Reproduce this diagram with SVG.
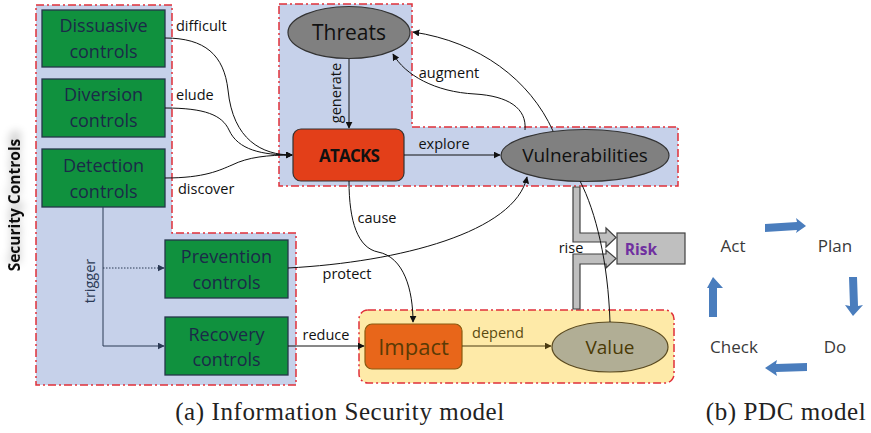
<svg xmlns="http://www.w3.org/2000/svg" width="871" height="433" viewBox="0 0 871 433">
<style>
.region{fill:#c6d1ea;stroke:#e0313a;stroke-width:1.5;stroke-dasharray:8 3 2 3}
.yregion{fill:#feeaa8;stroke:#e0313a;stroke-width:1.5;stroke-dasharray:8 3 2 3}
.green{fill:#10913e;stroke:#26364a;stroke-width:1.3}
.gt{font-family:"Open Sans",sans-serif;font-size:18px;fill:#1b2a48;text-anchor:middle}
.lbl{font-family:"Open Sans",sans-serif;font-size:14.5px;fill:#111}
.con{fill:none;stroke:#111;stroke-width:1}
.tri{fill:none;stroke:#2b3a55;stroke-width:1}
.pdc{font-family:"Open Sans",sans-serif;font-size:17px;fill:#3a3a3a;text-anchor:middle}
.cap{font-family:"Liberation Serif",serif;font-size:25px;fill:#222;letter-spacing:0.6px;text-anchor:middle}
.blue{fill:#4a7dbd}
</style>
<defs>
<marker id="ah" viewBox="0 0 10 10" refX="9" refY="5" markerWidth="7" markerHeight="7" orient="auto" markerUnits="userSpaceOnUse">
<path d="M0,0 L10,5 L0,10 Z" fill="#111"/>
</marker>
<marker id="ahn" viewBox="0 0 10 10" refX="9" refY="5" markerWidth="7" markerHeight="7" orient="auto" markerUnits="userSpaceOnUse">
<path d="M0,0 L10,5 L0,10 Z" fill="#2b3a55"/>
</marker>
<marker id="ahb" viewBox="0 0 10 10" refX="9" refY="5" markerWidth="7" markerHeight="7" orient="auto" markerUnits="userSpaceOnUse">
<path d="M0,0 L10,5 L0,10 Z" fill="#4a3a10"/>
</marker>
<filter id="sh" x="-50%" y="-20%" width="200%" height="140%">
<feGaussianBlur in="SourceAlpha" stdDeviation="4"/>
<feOffset dx="8" dy="0" result="b"/>
<feComponentTransfer><feFuncA type="linear" slope="0.35"/></feComponentTransfer>
<feMerge><feMergeNode/><feMergeNode in="SourceGraphic"/></feMerge>
</filter>
</defs>

<g id="regions">
<path class="region" d="M36,5 H172 V233 H296 V385 H36 Z"/>
<path class="region" d="M279,4 H412 V127 H678 V186 H279 Z"/>
<rect class="yregion" x="359" y="310" width="315" height="73" rx="9"/>
</g>

<text x="0" y="0" transform="translate(20,205) rotate(-90)" font-family="Open Sans, sans-serif" font-weight="bold" font-size="15.5px" fill="#111" text-anchor="middle" filter="url(#sh)">Security Controls</text>

<g id="dissuasive"><rect class="green" x="42" y="10" width="123" height="57"/><text class="gt" x="103.5" y="32">Dissuasive</text><text class="gt" x="103.5" y="58">controls</text></g>
<g id="diversion"><rect class="green" x="42" y="79" width="123" height="58"/><text class="gt" x="103.5" y="101">Diversion</text><text class="gt" x="103.5" y="127">controls</text></g>
<g id="detection"><rect class="green" x="42" y="149" width="123" height="58"/><text class="gt" x="103.5" y="172">Detection</text><text class="gt" x="103.5" y="198">controls</text></g>
<g id="prevention"><rect class="green" x="165" y="240" width="123" height="58"/><text class="gt" x="226.5" y="263">Prevention</text><text class="gt" x="226.5" y="289">controls</text></g>
<g id="recovery"><rect class="green" x="165" y="317" width="123" height="58"/><text class="gt" x="226.5" y="341">Recovery</text><text class="gt" x="226.5" y="366">controls</text></g>

<g id="threats"><ellipse cx="349" cy="32.5" rx="61" ry="26" fill="#808080" stroke="#333" stroke-width="1.2"/><text x="349" y="40" font-family="Open Sans, sans-serif" font-size="21px" fill="#111" text-anchor="middle">Threats</text></g>
<g id="atacks"><rect x="293" y="129" width="111" height="52" rx="8" fill="#e33f19" stroke="#333" stroke-width="1.2"/><text x="349" y="162" font-family="Open Sans, sans-serif" font-weight="bold" font-size="17px" letter-spacing="-0.8" fill="#111" text-anchor="middle">ATACKS</text></g>
<g id="vulnerabilities"><ellipse cx="585" cy="155.5" rx="84" ry="26" fill="#808080" stroke="#333" stroke-width="1.2"/><text x="585" y="162" font-family="Open Sans, sans-serif" font-size="19px" fill="#111" text-anchor="middle">Vulnerabilities</text></g>
<g id="impact"><rect x="365" y="324" width="97" height="45" rx="7" fill="#e8661a" stroke="#8a5a10" stroke-width="1.2"/><text x="413.5" y="355" font-family="Open Sans, sans-serif" font-size="22px" fill="#5a3a05" text-anchor="middle">Impact</text></g>
<g id="value"><ellipse cx="610" cy="347" rx="58" ry="25" fill="#b1ae95" stroke="#5a4a20" stroke-width="1.2"/><text x="610" y="354" font-family="Open Sans, sans-serif" font-size="19px" fill="#4a3a05" text-anchor="middle">Value</text></g>
<g id="risk"><rect x="617" y="233" width="68" height="31" fill="#bfbfbf" stroke="#404040" stroke-width="1.2"/><text x="641" y="255" font-family="Open Sans, sans-serif" font-weight="bold" font-size="15.5px" fill="#7030a0" text-anchor="middle">Risk</text></g>

<g id="rise-arrows" fill="#bfbfbf" stroke="#404040" stroke-width="1.2">
<path d="M573,187 H580 V233 H606 V228 L616,237.5 L606,247 V242 H573 Z"/>
<path d="M573,309 H580 V264 H606 V268 L616,258.5 L606,250 V254 H573 Z"/>
</g>

<g id="connectors">
<path class="con" d="M165,38 C205,38 224,55 228,90 C233,140 262,155 292,155" marker-end="url(#ah)"/>
<path class="con" d="M165,108 C205,108 222,115 229,130 C238,150 262,155 292,155" marker-end="url(#ah)"/>
<path class="con" d="M165,178 C205,178 220,170 232,165 C248,157 268,155 292,155" marker-end="url(#ah)"/>
<path class="con" d="M349,59 V128" marker-end="url(#ah)"/>
<path class="con" d="M404,155 H500" marker-end="url(#ah)"/>
<path class="con" d="M525,130 C527,108 508,96 475,94 C435,92 405,75 393,54" marker-end="url(#ah)"/>
<path class="con" d="M553,131 C530,80 480,42 413,32" marker-end="url(#ah)"/>
<path class="con" d="M288,268 C400,262 515,232 527,177" marker-end="url(#ah)"/>
<path class="con" d="M349,181 C349,222 358,248 378,252 C404,257 413,290 413,322" marker-end="url(#ah)"/>
<path class="con" d="M610,322 C608,262 596,212 580,181"/>
<path class="con" d="M288,346 H364" marker-end="url(#ah)"/>
<path d="M462,346 H551" fill="none" stroke="#4a3a10" stroke-width="1" marker-end="url(#ahb)"/>
<path class="tri" d="M103,207 V346 H164" marker-end="url(#ahn)"/>
<path class="tri" d="M103,268 H164" stroke-dasharray="1.5 1.5" marker-end="url(#ahn)"/>
</g>

<g id="labels">
<text class="lbl" x="176" y="31">difficult</text>
<text class="lbl" x="176" y="100">elude</text>
<text class="lbl" x="178" y="194">discover</text>
<text class="lbl" transform="translate(341,93) rotate(-90)" text-anchor="middle">generate</text>
<text class="lbl" x="449" y="78" text-anchor="middle">augment</text>
<text class="lbl" x="444" y="149" text-anchor="middle">explore</text>
<text class="lbl" x="377" y="223" text-anchor="middle">cause</text>
<text class="lbl" x="347" y="279" text-anchor="middle">protect</text>
<text class="lbl" x="326" y="340" text-anchor="middle">reduce</text>
<text class="lbl" x="498" y="338" text-anchor="middle" style="fill:#5a4a10">depend</text>
<text class="lbl" x="571" y="253" text-anchor="middle">rise</text>
<text class="lbl" transform="translate(95,281) rotate(-90)" text-anchor="middle" style="fill:#2b3a55">trigger</text>
</g>

<g id="pdc">
<text class="pdc" x="733" y="252">Act</text>
<text class="pdc" x="835" y="252">Plan</text>
<text class="pdc" x="734" y="353">Check</text>
<text class="pdc" x="835" y="353">Do</text>
<path class="blue" d="M765,224 L797,222 L796,218 L806,226 L796,233 L797,230 L765,232 Z"/>
<path class="blue" d="M849,277 L857,277 L858,306 L863,305 L853,316 L845,305 L850,306 Z"/>
<path class="blue" d="M807,363 L807,371 L776,372 L777,376 L765,368 L777,360 L776,364 Z"/>
<path class="blue" d="M709,317 L717,317 L717,288 L723,288 L713,277 L707,288 L709,288 Z"/>
</g>

<text class="cap" x="340" y="420">(a) Information Security model</text>
<text class="cap" x="786" y="420">(b) PDC model</text>
</svg>
